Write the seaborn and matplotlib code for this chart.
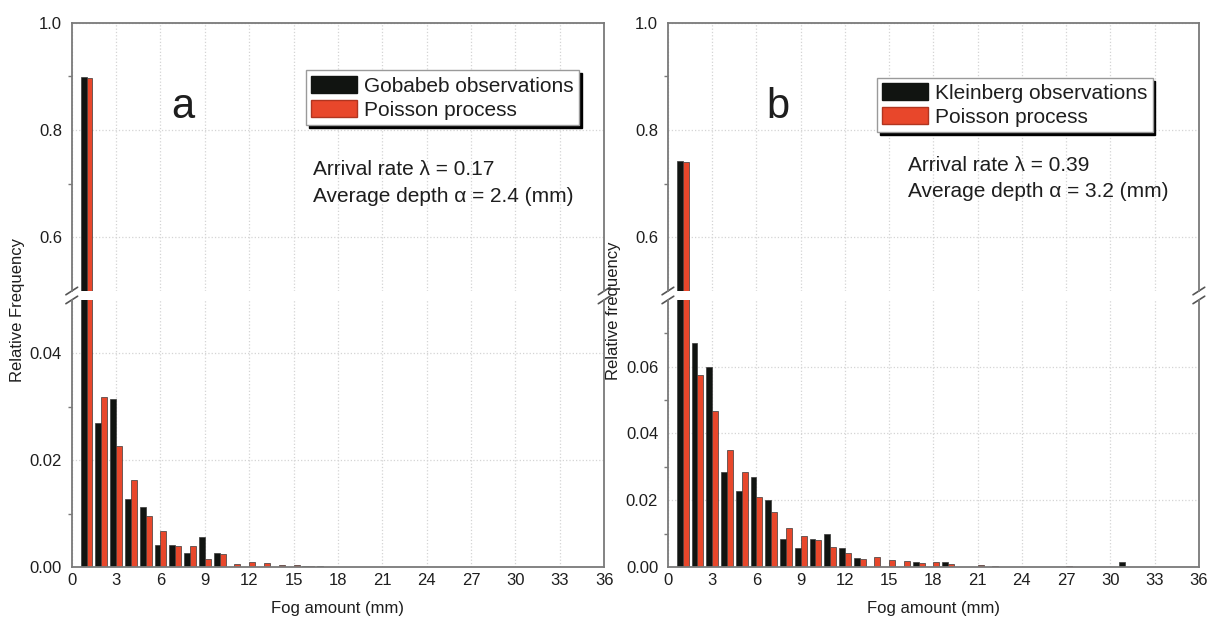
import numpy as np
import pandas as pd
import matplotlib
matplotlib.use("Agg")
import matplotlib.pyplot as plt
from matplotlib.patches import Patch
from matplotlib.ticker import FixedLocator
import seaborn as sns

# --- data ---
amount_a = list(range(1, 18))
gobabeb_obs = [0.898, 0.0270, 0.0314, 0.0128, 0.0113, 0.0042, 0.0042, 0.0027, 0.0056,
               0.0027, 0.0, 0.0, 0.0, 0.0, 0.0, 0.0001, 0.0001]
gobabeb_poisson = [0.897, 0.0319, 0.0227, 0.0163, 0.0096, 0.0067, 0.0039, 0.0039, 0.0015,
                   0.0025, 0.0006, 0.0009, 0.0008, 0.0004, 0.0003, 0.0001, 0.0]

amount_b = list(range(1, 36))
kleinberg_obs = [0.743, 0.0672, 0.0600, 0.0285, 0.0229, 0.0271, 0.0200, 0.0085, 0.0056,
                 0.0085, 0.0099, 0.0057, 0.0028, 0.0, 0.0, 0.0, 0.0014, 0.0, 0.0014,
                 0.0001, 0.0, 0.0, 0.0001, 0.0001, 0.0001, 0.0, 0.0, 0.0001, 0.0, 0.0,
                 0.0015, 0.0, 0.0, 0.0, 0.0001]
kleinberg_poisson = [0.740, 0.0575, 0.0468, 0.0349, 0.0285, 0.0209, 0.0165, 0.0118, 0.0093,
                     0.0080, 0.0059, 0.0043, 0.0024, 0.0030, 0.0022, 0.0018, 0.0011, 0.0015,
                     0.0008, 0.0001, 0.0005, 0.0003, 0.0001, 0.0001, 0.0001, 0.0, 0.0002,
                     0.0001, 0.0, 0.0, 0.0, 0.0, 0.0, 0.0, 0.0]

x_ticks = list(range(0, 37, 3))
BLACK = "#111411"
RED = "#e8472b"
SPINE = "#7a7a7a"
TEXT = "#1e1e1e"

sns.set_style("white")
plt.rcParams["font.family"] = ["Liberation Sans", "DejaVu Sans"]
plt.rcParams["text.color"] = TEXT
plt.rcParams["axes.labelcolor"] = TEXT
plt.rcParams["xtick.labelcolor"] = TEXT
plt.rcParams["ytick.labelcolor"] = TEXT


def long_frame(amount, obs, poi, obs_name):
    return pd.DataFrame({
        "amount": amount + amount,
        "freq": obs + poi,
        "series": [obs_name] * len(obs) + ["Poisson process"] * len(poi),
    })


def draw_panel(fig, left, width, df, obs_name, low_top, low_major, letter,
               rate, depth, ylabel, leg_anchor):
    ax_hi = fig.add_axes([left, 0.5314, width, 0.432])
    ax_lo = fig.add_axes([left, 0.087, width, 0.430])
    for ax in (ax_hi, ax_lo):
        sns.barplot(data=df, x="amount", y="freq", hue="series", native_scale=True,
                    hue_order=[obs_name, "Poisson process"], palette=[BLACK, RED],
                    width=0.8, errorbar=None, edgecolor="#3a3a3a", linewidth=0.5,
                    saturation=1, legend=False, ax=ax)
        ax.set_xlim(0, 36)
        ax.set_xticks(x_ticks)
        ax.grid(True, color="#d4d4d4", linestyle=":", linewidth=0.9)
        ax.set_axisbelow(True)
        ax.set_xlabel("")
        ax.set_ylabel("")
        for s in ax.spines.values():
            s.set_color(SPINE)
            s.set_linewidth(1.3)
        ax.tick_params(axis="y", direction="out", length=5, width=1, color=SPINE,
                       labelsize=12, pad=2)
        ax.tick_params(axis="y", which="minor", direction="out", length=3, width=1,
                       color=SPINE, left=True)

    ax_hi.set_ylim(0.5, 1.0)
    ax_hi.set_yticks([0.6, 0.8, 1.0])
    ax_hi.set_yticklabels(["0.6", "0.8", "1.0"])
    ax_hi.yaxis.set_minor_locator(FixedLocator([0.7, 0.9]))
    ax_hi.spines["bottom"].set_visible(False)
    ax_hi.tick_params(axis="x", length=0, labelbottom=False)

    ax_lo.set_ylim(0, low_top)
    ax_lo.set_yticks(low_major)
    ax_lo.set_yticklabels([f"{v:.2f}" for v in low_major])
    ax_lo.yaxis.set_minor_locator(FixedLocator(list(np.arange(0.01, low_top, 0.02))))
    ax_lo.spines["top"].set_visible(False)
    ax_lo.set_xticklabels([str(t) for t in x_ticks])
    ax_lo.tick_params(axis="x", length=0, labelsize=12, pad=4)
    ax_lo.set_xlabel("Fog amount (mm)", fontsize=12, labelpad=10)

    # break marks
    dx, dy = 0.011, 0.014
    kw = dict(color="#555555", lw=1.2, clip_on=False)
    for xx in (0, 1):
        ax_hi.plot([xx - dx, xx + dx], [-dy, dy], transform=ax_hi.transAxes, **kw)
        ax_lo.plot([xx - dx, xx + dx], [1 - dy, 1 + dy], transform=ax_lo.transAxes, **kw)

    handles = [Patch(facecolor=BLACK, edgecolor=BLACK), Patch(facecolor=RED, edgecolor="#b03520")]
    ax_hi.legend(handles, [obs_name, "Poisson process"], loc="upper right",
                 bbox_to_anchor=leg_anchor, fontsize=15, frameon=True, fancybox=False,
                 framealpha=1, edgecolor="#9a9a9a", shadow={"color": "black", "alpha": 1},
                 handlelength=2.2, handleheight=0.9, handletextpad=0.35,
                 borderpad=0.25, labelspacing=0.2, borderaxespad=0)

    ax_hi.text(0.208, 0.686, letter, transform=ax_hi.transAxes, fontsize=30,
               ha="center", va="center")
    ax_hi.text(0.453, rate[1], rate[0], transform=ax_hi.transAxes, fontsize=15,
               va="baseline")
    ax_hi.text(0.453, depth[1], depth[0], transform=ax_hi.transAxes, fontsize=15,
               va="baseline")
    fig.text(left - 0.045, 0.50, ylabel, rotation=90, fontsize=12, ha="center", va="center")
    return ax_hi, ax_lo


def main():
    fig = plt.figure(figsize=(12.1, 6.21), dpi=100)
    df_a = long_frame(amount_a, gobabeb_obs, gobabeb_poisson, "Gobabeb observations")
    df_b = long_frame(amount_b, kleinberg_obs, kleinberg_poisson, "Kleinberg observations")

    draw_panel(fig, 0.0593, 0.440, df_a, "Gobabeb observations", 0.05, [0.0, 0.02, 0.04],
               "a", ("Arrival rate λ = 0.17", 0.432), ("Average depth α = 2.4 (mm)", 0.330),
               "Relative Frequency", (0.953, 0.822))
    draw_panel(fig, 0.552, 0.4388, df_b, "Kleinberg observations", 0.08,
               [0.0, 0.02, 0.04, 0.06], "b", ("Arrival rate λ = 0.39", 0.447),
               ("Average depth α = 3.2 (mm)", 0.350), "Relative frequency", (0.913, 0.794))

    fig.savefig("out.png", dpi=100, facecolor="white")


if __name__ == "__main__":
    main()
